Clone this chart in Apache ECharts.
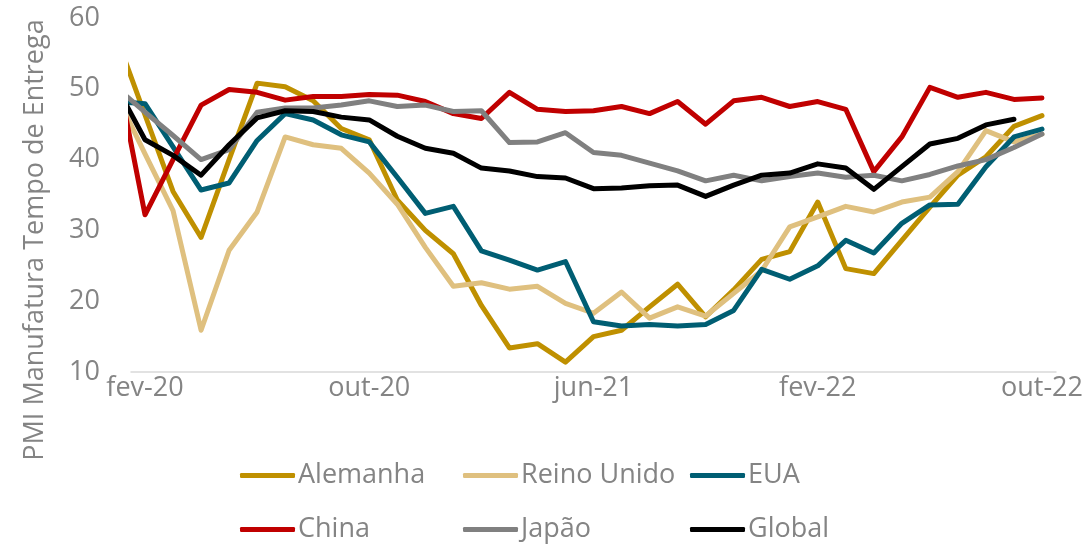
<!DOCTYPE html>
<html>
<head>
<meta charset="utf-8">
<script src="https://cdn.jsdelivr.net/npm/echarts@6/dist/echarts.min.js"></script>
<style>
  html, body { margin: 0; padding: 0; background: #ffffff; }
  #chart { width: 1089px; height: 545px; }
</style>
</head>
<body>
<div id="chart"></div>
<script>
// Months from jan-20 to out-22 (the first month sits just outside the plotted window)
const months = ['jan-20','fev-20','mar-20','abr-20','mai-20','jun-20','jul-20','ago-20','set-20','out-20','nov-20','dez-20',
                'jan-21','fev-21','mar-21','abr-21','mai-21','jun-21','jul-21','ago-21','set-21','out-21','nov-21','dez-21',
                'jan-22','fev-22','mar-22','abr-22','mai-22','jun-22','jul-22','ago-22','set-22','out-22'];
// Month positions that carry a label on the x axis
const labelMonths = ['fev-20','out-20','jun-21','fev-22','out-22'];
const yTicks = [10, 20, 30, 40, 50, 60];

const alemanha = [57.1,46.3,35.5,29.0,40.0,50.8,50.3,48.3,44.4,42.8,34.3,30.0,26.7,19.4,13.4,14.0,11.4,15.0,15.9,19.2,22.4,17.8,21.6,25.9,27.0,34.0,24.6,23.9,28.6,33.3,37.8,40.4,44.7,46.2];
const reinoUnido = [49.0,40.8,32.8,15.9,27.2,32.6,43.2,42.1,41.6,38.1,33.7,27.6,22.1,22.6,21.7,22.1,19.7,18.3,21.3,17.6,19.2,17.9,21.1,24.3,30.5,31.9,33.4,32.6,34.0,34.7,38.3,44.1,42.5,43.6];
const eua = [48.2,47.9,41.8,35.7,36.7,42.7,46.5,45.6,43.5,42.5,37.5,32.4,33.4,27.1,25.8,24.4,25.6,17.1,16.5,16.7,16.5,16.7,18.7,24.5,23.1,25.0,28.6,26.8,31.0,33.6,33.7,39.0,43.2,44.3];
const china = [52.4,32.2,40.0,47.7,49.9,49.5,48.4,48.9,48.9,49.2,49.1,48.2,46.5,45.8,49.5,47.1,46.8,46.9,47.5,46.5,48.2,45.0,48.3,48.8,47.5,48.2,47.1,38.3,43.2,50.2,48.8,49.5,48.5,48.7];
const japao = [50.1,46.7,43.4,40.0,41.4,46.7,47.3,47.3,47.7,48.3,47.5,47.7,46.8,46.9,42.4,42.5,43.8,41.0,40.6,39.5,38.4,37.0,37.8,37.0,37.6,38.1,37.5,37.8,37.0,37.9,39.1,40.0,41.7,43.6];
const global = [50.2,42.8,40.6,37.8,42.1,45.9,46.9,46.8,46.0,45.6,43.3,41.6,40.9,38.8,38.4,37.6,37.4,35.9,36.0,36.3,36.4,34.8,36.4,37.8,38.1,39.4,38.8,35.8,39.0,42.2,43.0,44.9,45.7];

const seriesDefs = [
  { name: 'Alemanha',    values: alemanha,   color: '#BF9000' },
  { name: 'Reino Unido', values: reinoUnido, color: '#DFC07F' },
  { name: 'EUA',         values: eua,        color: '#005E73' },
  { name: 'China',       values: china,      color: '#C00000' },
  { name: 'Japão',       values: japao,      color: '#808080' },
  { name: 'Global',      values: global,     color: '#000000' }
];

const FONT = 'Open Sans';
const TEXT_GRAY = '#848484';
const FONT_SIZE = 27;

// Legend placement: three columns, two rows
const legendSlots = [
  { left: 240, top: 462 }, { left: 463, top: 462 }, { left: 690, top: 462 },
  { left: 240, top: 516 }, { left: 463, top: 516 }, { left: 690, top: 516 }
];

const chart = echarts.init(document.getElementById('chart'), null, { renderer: 'canvas' });

const option = {
  animation: false,
  backgroundColor: '#ffffff',
  textStyle: { fontFamily: FONT },
  grid: { left: 131, right: 33, top: 18, bottom: 173, containLabel: false },
  xAxis: {
    type: 'value',
    min: 0.5,
    max: months.length - 0.5,
    axisLine: { show: true, lineStyle: { color: '#D9D9D9', width: 1.5 } },
    axisTick: { show: false },
    splitLine: { show: false },
    axisLabel: {
      customValues: labelMonths.map(m => months.indexOf(m)),
      formatter: v => months[Math.round(v)],
      color: TEXT_GRAY,
      fontSize: FONT_SIZE,
      fontFamily: FONT,
      margin: 3
    }
  },
  yAxis: {
    type: 'value',
    min: yTicks[0],
    max: yTicks[yTicks.length - 1],
    interval: 10,
    axisLine: { show: false },
    axisTick: { show: false },
    splitLine: { show: false },
    axisLabel: { color: TEXT_GRAY, fontSize: FONT_SIZE, fontFamily: FONT, margin: 31 }
  },
  legend: seriesDefs.map((s, i) => ({
    data: [s.name],
    left: legendSlots[i].left,
    top: legendSlots[i].top,
    icon: 'roundRect',
    itemWidth: 55,
    itemHeight: 5,
    itemGap: 0,
    padding: 0,
    selectedMode: false,
    textStyle: { color: TEXT_GRAY, fontSize: FONT_SIZE, fontFamily: FONT, padding: [0, 0, 0, -2] }
  })),
  graphic: [{
    type: 'text',
    x: 35,
    y: 240,
    rotation: Math.PI / 2,
    style: {
      text: 'PMI Manufatura Tempo de Entrega',
      fill: TEXT_GRAY,
      font: FONT_SIZE + 'px "' + FONT + '"',
      align: 'center',
      verticalAlign: 'middle'
    }
  }],
  series: seriesDefs.map(s => ({
    name: s.name,
    type: 'line',
    data: s.values.map((v, i) => [i, v]),
    symbol: 'none',
    clip: true,
    color: s.color,
    itemStyle: { color: s.color },
    lineStyle: { color: s.color, width: 5, cap: 'round', join: 'round' },
    emphasis: { disabled: true }
  }))
};

chart.setOption(option);
</script>
</body>
</html>
